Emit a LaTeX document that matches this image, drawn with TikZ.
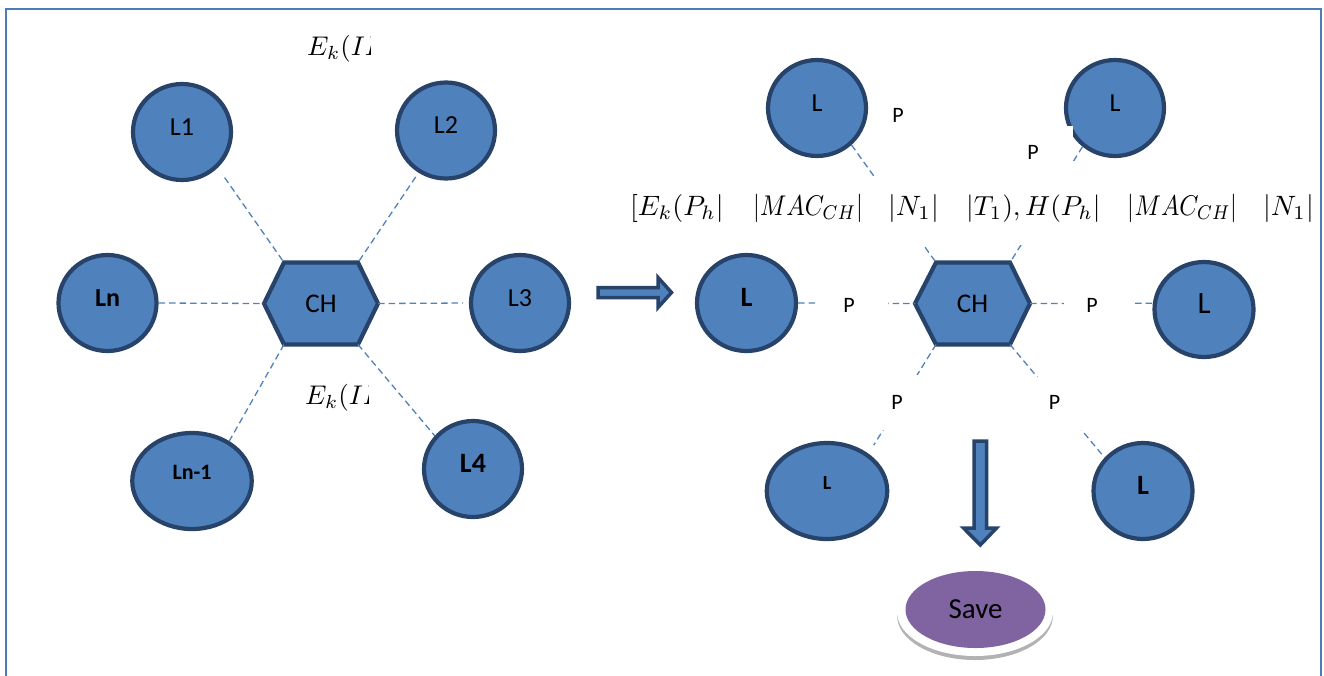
\documentclass[tikz,border=0pt]{standalone}
\usepackage{fontspec}
\setmainfont{Carlito}
\usetikzlibrary{shapes.geometric}
\definecolor{blu}{HTML}{4F81BD}
\definecolor{bdr}{HTML}{27436A}
\definecolor{frm}{HTML}{4A7EBB}
\definecolor{purp}{HTML}{8064A2}
\newcommand\fsz[1]{\fontsize{#1}{#1}\selectfont}
\newcommand\mth[2]{\scalebox{#1}{$#2$}}
\newcommand\mthxy[3]{\scalebox{#1}[#2]{$#3$}}
\begin{document}
\begin{tikzpicture}[x=1pt,y=-1pt,
  lnode/.style={ellipse, draw=bdr, fill=blu, line width=4.2pt, inner sep=0pt},
  hexs/.style={draw=bdr, fill=blu, line width=4.2pt, line join=miter},
  lbl/.style={font=\fsz{26}, text=black, inner sep=0pt},
  blbl/.style={font=\fsz{26}\bfseries, text=black, inner sep=0pt},
  conn/.style={draw=blu, dash pattern=on 6.5pt off 4pt, line width=1.3pt},
  plbl/.style={font=\fsz{22}, inner sep=0pt},
  fml/.style={anchor=base west, inner sep=0pt},
  blockarrow/.style={draw=bdr, fill=blu, line width=3.5pt, line join=miter}]
\useasboundingbox (0,0) rectangle (1324,675);
\clip (0,0) rectangle (1324,675);
\draw[frm, line width=2pt] (6,9) rectangle (1321,700);

% ---------- left star ----------
\node[lnode, minimum width=98pt, minimum height=96pt, label={[lbl,yshift=5pt]center:L1}] (L1) at (182,132) {};
\node[lnode, minimum width=98pt, minimum height=96pt, label={[lbl,yshift=5pt]center:L2}] (L2) at (446,130.5) {};
\node[lnode, minimum width=98pt, minimum height=96pt, label={[blbl,yshift=5pt]center:Ln}] (Ln) at (107.5,303) {};
\node[lnode, minimum width=98pt, minimum height=96pt, label={[lbl,yshift=5pt]center:L3}] (L3) at (520,303) {};
\node[lnode, minimum width=119.5pt, minimum height=96pt, label={[blbl,font=\fsz{22}\bfseries,yshift=9pt]center:Ln-1}] (Lnm) at (192,481) {};
\node[lnode, minimum width=98pt, minimum height=96pt, label={[blbl,font=\fsz{28}\bfseries,yshift=6pt]center:L4}] (L4) at (473,469) {};

\coordinate (CH1nw) at (284,262.5);
\coordinate (CH1ne) at (358,262.5);
\coordinate (CH1e) at (378,303.5);
\coordinate (CH1se) at (358,344.5);
\coordinate (CH1sw) at (284,344.5);
\coordinate (CH1w) at (264,303.5);
\filldraw[hexs] (CH1nw) -- (CH1ne) -- (CH1e) -- (CH1se) -- (CH1sw) -- (CH1w) -- cycle;
\node[lbl, font=\fsz{27}] (CH1) at (321,303.5) {CH};

\draw[conn, shorten <=12pt] (L1.-45) -- (CH1nw);
\draw[conn, shorten <=5pt] (L2.-123) -- (CH1ne);
\draw[conn] (Ln.east) -- (CH1w);
\draw[conn, shorten >=6pt] (CH1e) -- (L3.west);
\draw[conn] (CH1sw) -- (Lnm.47);
\draw[conn] (CH1se) -- (L4.139);

\begin{scope}
\clip (290,20) rectangle (370,80);
\node[fml] (Ek1) at (307,55) {\mth{2.7}{E_k(ID}};
\end{scope}
\begin{scope}
\clip (290,370) rectangle (368,420);
\node[fml] (Ek2) at (305,404) {\mth{2.7}{E_k(ID}};
\end{scope}

% ---------- right arrow ----------
\filldraw[blockarrow] (598,287.5) -- (658,287.5) -- (658,277.5) -- (671.5,292.5) -- (658,307.5) -- (658,297.5) -- (598,297.5) -- cycle;

% ---------- right star ----------
\node[lnode, minimum width=98pt, minimum height=96pt, label={[lbl,yshift=5pt]center:L}] (Lt1) at (817,108) {};
\node[lnode, minimum width=98pt, minimum height=96pt, label={[lbl,yshift=5pt]center:L}] (Lt2) at (1115,108) {};
\node[lnode, minimum width=99pt, minimum height=96pt, label={[blbl,font=\fsz{28}\bfseries,yshift=6pt]center:L}] (Lm1) at (746.5,303) {};
\node[lnode, minimum width=99pt, minimum height=95pt, label={[lbl,font=\fsz{31},yshift=6pt]center:L}] (Lm2) at (1204,309.5) {};
\node[lnode, minimum width=120.5pt, minimum height=96pt, label={[blbl,font=\fsz{20}\bfseries,yshift=8pt]center:L}] (Lb1) at (827,491) {};
\node[lnode, minimum width=99pt, minimum height=96pt, label={[blbl,font=\fsz{28}\bfseries,yshift=6pt]center:L}] (Lb2) at (1143,491) {};

\coordinate (CH2nw) at (936,262.5);
\coordinate (CH2ne) at (1010,262.5);
\coordinate (CH2e) at (1030,303.5);
\coordinate (CH2se) at (1010,344.5);
\coordinate (CH2sw) at (936,344.5);
\coordinate (CH2w) at (915,303.5);
\filldraw[hexs] (CH2nw) -- (CH2ne) -- (CH2e) -- (CH2se) -- (CH2sw) -- (CH2w) -- cycle;
\node[lbl, font=\fsz{27}] (CH2) at (972.5,303.5) {CH};

\draw[conn] (Lt1.-47) -- (CH2nw);
\draw[conn] (Lt2.-130) -- (CH2ne);
\draw[conn] (Lm1.east) -- (CH2w);
\draw[conn] (CH2e) -- (Lm2.173);
\draw[conn, shorten >=10pt] (CH2sw) -- (Lb1.42);
\draw[conn] (CH2se) -- (Lb2.139);

% masks (white text boxes)
\fill[white] (615,178) rectangle (1312,245);
\fill[white] (995,126) rectangle (1073,178);
\fill[white] (818,281) rectangle (888,327);
\fill[white] (1064,281) rectangle (1133,327);
\fill[white] (862,375) rectangle (935,430);
\fill[white] (1025,377) rectangle (1095,430);

\node[plbl] (P1) at (898,115) {P};
\node[plbl] (P2) at (1033,152) {P};
\node[plbl] (P3) at (849,305) {P};
\node[plbl] (P4) at (1092,305) {P};
\node[plbl] (P5) at (897,402) {P};
\node[plbl] (P6) at (1054.6,402) {P};

\node[fml] (f1) at (630,215) {\mth{2.8}{[E_k(P_h|}};
\node[fml] (f2) at (753,215) {\mthxy{2.45}{2.85}{|MAC_{CH}|}};
\node[fml] (f3) at (888,215) {\mth{2.8}{|N_1|}};
\node[fml] (f4) at (966,215) {\mth{2.75}{|T_1),H(P_h|}};
\node[fml] (f5) at (1127.6,215) {\mthxy{2.45}{2.85}{|MAC_{CH}|}};
\node[fml] (f6) at (1263,215) {\mth{2.8}{|N_1|}};

% ---------- down arrow ----------
\filldraw[blockarrow] (974,441) -- (986.5,441) -- (986.5,528) -- (996.5,528) -- (980.25,545) -- (963.5,528) -- (974,528) -- cycle;

% ---------- save ----------
\fill[gray!60] (975,615.5) ellipse (78 and 44.5);
\fill[white] (975,612) ellipse (78 and 44);
\node[ellipse, fill=purp, minimum width=140pt, minimum height=77pt, inner sep=0pt, font=\fsz{29}] (Save) at (975.5,609.5) {Save};
\end{tikzpicture}
\end{document}
